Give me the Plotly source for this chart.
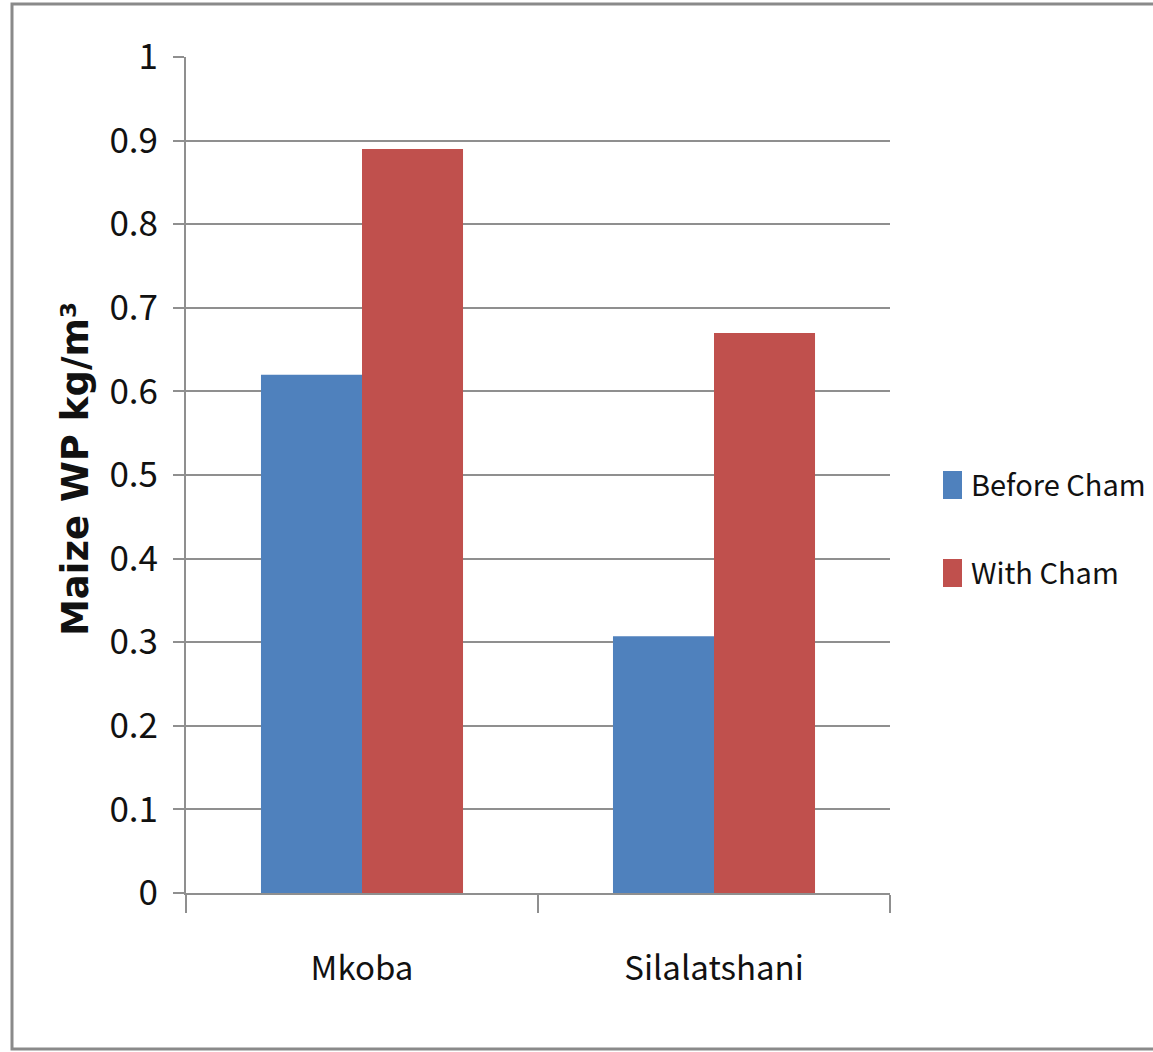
import plotly.graph_objects as go

# Maize water productivity by site, before and with Cham
sites = ["Mkoba", "Silalatshani"]
before_cham = [0.62, 0.307]
with_cham = [0.89, 0.67]
series_names = ["Before Cham", "With Cham"]
y_ticks = [0, 0.1, 0.2, 0.3, 0.4, 0.5, 0.6, 0.7, 0.8, 0.9, 1]
y_tick_text = ["0", "0.1", "0.2", "0.3", "0.4", "0.5", "0.6", "0.7", "0.8", "0.9", "1"]

BLUE = "#4F81BD"
RED = "#C0504D"
GRID = "#8f8f8f"
TEXT_FONT = "Noto Sans CJK JP, Roboto, sans-serif"

W, H = 1153, 1052
L, R, T, B = 186, 890, 57, 893  # plot area in pixels


def px_x(p):
    return (p - L) / (R - L)


def px_y(p):
    return (B - p) / (B - T)


fig = go.Figure()
fig.add_trace(go.Bar(x=sites, y=before_cham, name=series_names[0],
                     marker=dict(color=BLUE, line=dict(width=0))))
fig.add_trace(go.Bar(x=sites, y=with_cham, name=series_names[1],
                     marker=dict(color=RED, line=dict(width=0))))

fig.update_layout(
    width=W, height=H,
    margin=dict(l=L, r=W - R, t=T, b=H - B, pad=0),
    paper_bgcolor="white", plot_bgcolor="white",
    barmode="group", bargap=0.426, bargroupgap=0,
    showlegend=False,
    font=dict(family=TEXT_FONT, color="#111111"),
)

fig.update_xaxes(
    type="category", showgrid=False, zeroline=False,
    showline=True, linecolor=GRID, linewidth=2,
    ticks="outside", tickson="boundaries", ticklen=18, tickwidth=2, tickcolor=GRID,
    tickfont=dict(family=TEXT_FONT, size=33, color="#111111"),
    ticklabelstandoff=45,
)
fig.update_yaxes(
    range=[0, 1], tickmode="array", tickvals=y_ticks, ticktext=y_tick_text,
    showgrid=True, gridcolor=GRID, gridwidth=2, zeroline=False,
    showline=True, linecolor=GRID, linewidth=2,
    ticks="outside", ticklen=11, tickwidth=2, tickcolor=GRID,
    tickfont=dict(family=TEXT_FONT, size=35, color="#111111"),
    ticklabelstandoff=8,
)

# y axis title
fig.add_annotation(
    text="<b>Maize WP kg/m³</b>", textangle=-90,
    xref="paper", yref="paper", x=px_x(75), y=px_y(469),
    xanchor="center", yanchor="middle", showarrow=False,
    font=dict(family="DejaVu Sans", size=37, color="#111111"),
)

# legend drawn as swatches and labels
legend_rows = [(471, 499, BLUE), (559, 587, RED)]
for (top, bottom, colour), name in zip(legend_rows, series_names):
    fig.add_shape(type="rect", xref="paper", yref="paper",
                  x0=px_x(943), x1=px_x(962), y0=px_y(bottom), y1=px_y(top),
                  fillcolor=colour, line=dict(width=0))
    fig.add_annotation(text=name, xref="paper", yref="paper",
                       x=px_x(969), y=px_y((top + bottom) / 2 - 2),
                       xanchor="left", yanchor="middle", showarrow=False,
                       font=dict(family=TEXT_FONT, size=29, color="#111111"))

# outer frame of the chart
fig.add_shape(type="rect", xref="paper", yref="paper",
              x0=px_x(12), x1=px_x(1165), y0=px_y(1049), y1=px_y(4),
              line=dict(color="#8a8a8a", width=3), fillcolor="rgba(0,0,0,0)",
              layer="below")

fig.write_html("out.html")
